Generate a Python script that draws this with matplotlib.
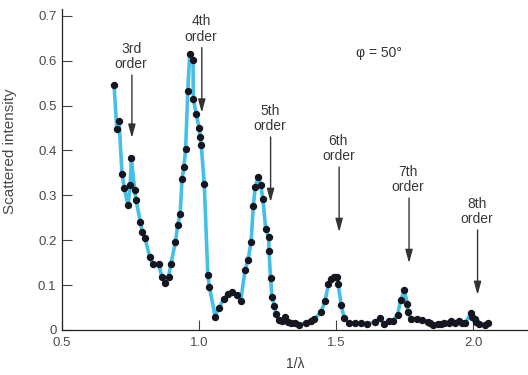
import numpy as np
import matplotlib.pyplot as plt
from matplotlib.ticker import FuncFormatter

plt.rcParams['font.family'] = ['Liberation Sans', 'DejaVu Sans']

# data
inv_lambda = [0.690, 0.700, 0.708, 0.719, 0.727, 0.741, 0.749, 0.753, 0.765, 0.770,
              0.786, 0.793, 0.803, 0.820, 0.831, 0.853, 0.864, 0.876, 0.889, 0.897,
              0.914, 0.922, 0.931, 0.938, 0.945, 0.951, 0.959, 0.966, 0.978, 0.979,
              0.990, 1.000, 1.005, 1.008, 1.019, 1.032, 1.038, 1.059, 1.072, 1.091,
              1.105, 1.122, 1.139, 1.152, 1.168, 1.179, 1.190, 1.198, 1.205, 1.216,
              1.225, 1.233, 1.243, 1.254, 1.255, 1.261, 1.266, 1.274, 1.281, 1.290,
              1.301, 1.314, 1.326, 1.337, 1.349, 1.364, 1.389, 1.409, 1.420, 1.445,
              1.460, 1.472, 1.481, 1.492, 1.504, 1.507, 1.519, 1.529, 1.547, 1.569,
              1.590, 1.612, 1.643, 1.661, 1.673, 1.693, 1.707, 1.724, 1.735, 1.749,
              1.760, 1.761, 1.775, 1.794, 1.814, 1.835, 1.844, 1.855, 1.870, 1.883,
              1.895, 1.910, 1.920, 1.934, 1.949, 1.961, 1.971, 1.992, 1.997, 2.005,
              2.011, 2.022, 2.044, 2.055]
intensity = [0.545, 0.448, 0.466, 0.348, 0.317, 0.278, 0.323, 0.383, 0.312, 0.290,
             0.240, 0.218, 0.204, 0.163, 0.146, 0.146, 0.119, 0.105, 0.119, 0.146,
             0.196, 0.234, 0.258, 0.337, 0.364, 0.403, 0.533, 0.614, 0.601, 0.514,
             0.481, 0.450, 0.429, 0.412, 0.325, 0.123, 0.095, 0.030, 0.049, 0.070,
             0.080, 0.084, 0.077, 0.065, 0.134, 0.157, 0.197, 0.277, 0.318, 0.341,
             0.324, 0.291, 0.226, 0.207, 0.176, 0.115, 0.074, 0.054, 0.036, 0.022,
             0.021, 0.029, 0.017, 0.015, 0.016, 0.012, 0.015, 0.021, 0.024, 0.040,
             0.065, 0.102, 0.113, 0.119, 0.117, 0.102, 0.055, 0.027, 0.016, 0.016,
             0.015, 0.013, 0.018, 0.026, 0.013, 0.020, 0.021, 0.033, 0.066, 0.088,
             0.058, 0.039, 0.024, 0.024, 0.022, 0.018, 0.015, 0.011, 0.013, 0.014,
             0.015, 0.016, 0.019, 0.016, 0.020, 0.016, 0.016, 0.037, 0.028, 0.024,
             0.018, 0.013, 0.011, 0.015]

order_labels = ['3rd\norder', '4th\norder', '5th\norder', '6th\norder', '7th\norder', '8th\norder']
order_x = [0.755, 1.010, 1.261, 1.511, 1.766, 2.016]
arrow_tip = [0.428, 0.484, 0.285, 0.218, 0.149, 0.078]
arrow_top = [0.568, 0.629, 0.430, 0.363, 0.294, 0.223]

fig = plt.figure(figsize=(5.28, 3.75), dpi=100)
ax = fig.add_axes([0.1174, 0.12, 0.8826, 0.856])

ax.plot(inv_lambda, intensity, color='#42c0ea', lw=2.6, zorder=2)
ax.plot(inv_lambda, intensity, 'o', color='#15161f', ms=4.3, zorder=3)

for lab, x, tip, top in zip(order_labels, order_x, arrow_tip, arrow_top):
    ax.annotate('', xy=(x, tip), xytext=(x, top),
                arrowprops=dict(arrowstyle='-|>,head_length=0.8,head_width=0.22',
                                color='#333333', lw=1.0, shrinkA=0, shrinkB=0))
    ax.text(x - 0.003, top + 0.008, lab, ha='center', va='bottom', fontsize=10,
            color='#383838', linespacing=1.15)

ax.text(1.657, 0.617, 'φ = 50°', ha='center', va='center', fontsize=10,
        color='#333333')

ax.set_xlim(0.5, 2.2)
ax.set_ylim(0, 0.715)
ax.set_xticks([0.5, 1.0, 1.5, 2.0])
ax.set_yticks([0, 0.1, 0.2, 0.3, 0.4, 0.5, 0.6, 0.7])
ax.yaxis.set_major_formatter(FuncFormatter(lambda v, p: '0' if v == 0 else f'{v:.1f}'))
ax.tick_params(direction='in', length=7, width=0.8, color='#444444',
               labelsize=9.5, labelcolor='#4a4a4a')
ax.tick_params(axis='y', pad=4)
ax.tick_params(axis='x', pad=5)
for s in ['top', 'right']:
    ax.spines[s].set_visible(False)
for s in ['left', 'bottom']:
    ax.spines[s].set_color('#222222')
    ax.spines[s].set_linewidth(0.9)

ax.set_xlabel('1/λ', fontsize=10, color='#3a3a3a', labelpad=6)
ax.set_ylabel('Scattered intensity', fontsize=11, color='#4a4a4a')
ax.yaxis.set_label_coords(-0.097, 0.558)

fig.savefig('out.png', dpi=100)
